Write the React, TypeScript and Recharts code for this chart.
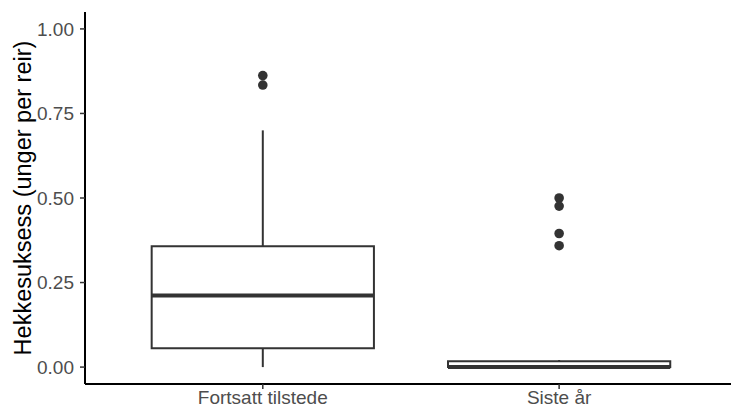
import React from 'react';
import {
  ComposedChart,
  XAxis,
  YAxis,
  Scatter,
  ReferenceArea,
  ReferenceLine,
  Label,
} from 'recharts';

const categories = ['Fortsatt tilstede', 'Siste år'];
const positions = [1, 2];
const q1 = [0.0556, 0];
const medians = [0.2115, 0];
const q3 = [0.357, 0.017];
const whiskerLow = [0, 0];
const whiskerHigh = [0.7, 0.021];
const outliersFortsatt = [0.862, 0.834];
const outliersSiste = [0.5, 0.476, 0.395, 0.359];
const yTicks = [0, 0.25, 0.5, 0.75, 1];

const boxHalfWidth = 0.375;
const FONT = '"Liberation Sans", Arial, sans-serif';
const BOX_COLOR = '#333333';

const outlierData = [
  ...outliersFortsatt.map((y) => ({ x: positions[0], y })),
  ...outliersSiste.map((y) => ({ x: positions[1], y })),
];

const Dot = (props: any) => {
  const { cx, cy } = props;
  if (cx == null || cy == null) return null;
  return <circle cx={cx} cy={cy} r={4.8} fill={BOX_COLOR} />;
};

export default function App() {
  return (
    <div style={{ position: 'absolute', left: 0, top: 0, background: '#fff' }}>
      <ComposedChart
        width={731}
        height={409}
        margin={{ top: 12, right: 0, bottom: 0, left: 0 }}
        data={outlierData}
      >
        <XAxis
          type="number"
          dataKey="x"
          domain={[0.4, 2.58]}
          ticks={positions}
          tickFormatter={(v: number) => categories[v - 1]}
          allowDataOverflow
          height={25}
          tickSize={5}
          tickMargin={2}
          axisLine={{ stroke: '#000', strokeWidth: 2 }}
          tickLine={{ stroke: BOX_COLOR, strokeWidth: 1.5 }}
          tick={{ fill: '#4D4D4D', fontSize: 19, fontFamily: FONT }}
        />
        <YAxis
          type="number"
          dataKey="y"
          domain={[-0.05, 1.05]}
          ticks={yTicks}
          allowDataOverflow
          tickFormatter={(v: number) => v.toFixed(2)}
          width={85}
          tickSize={5}
          tickMargin={6}
          axisLine={{ stroke: '#000', strokeWidth: 2 }}
          tickLine={{ stroke: BOX_COLOR, strokeWidth: 1.5 }}
          tick={{ fill: '#4D4D4D', fontSize: 19, fontFamily: FONT }}
        >
          <Label
            value="Hekkesuksess (unger per reir)"
            angle={-90}
            position="center"
            dx={-20}
            style={{ fill: '#000', fontSize: 23.5, fontFamily: FONT }}
          />
        </YAxis>
        {positions.map((p, i) => (
          <ReferenceLine
            key={`wl-${i}`}
            segment={[
              { x: p, y: whiskerLow[i] },
              { x: p, y: q1[i] },
            ]}
            stroke={BOX_COLOR}
            strokeWidth={2}
            ifOverflow="visible"
          />
        ))}
        {positions.map((p, i) => (
          <ReferenceLine
            key={`wh-${i}`}
            segment={[
              { x: p, y: q3[i] },
              { x: p, y: whiskerHigh[i] },
            ]}
            stroke={BOX_COLOR}
            strokeWidth={2}
            ifOverflow="visible"
          />
        ))}
        {positions.map((p, i) => (
          <ReferenceArea
            key={`box-${i}`}
            x1={p - boxHalfWidth}
            x2={p + boxHalfWidth}
            y1={q1[i]}
            y2={q3[i]}
            fill="#ffffff"
            fillOpacity={1}
            stroke={BOX_COLOR}
            strokeWidth={2}
            ifOverflow="visible"
          />
        ))}
        {positions.map((p, i) => (
          <ReferenceLine
            key={`med-${i}`}
            segment={[
              { x: p - boxHalfWidth, y: medians[i] },
              { x: p + boxHalfWidth, y: medians[i] },
            ]}
            stroke={BOX_COLOR}
            strokeWidth={4}
            ifOverflow="visible"
          />
        ))}
        <Scatter
          dataKey="y"
          data={outlierData}
          shape={<Dot />}
          isAnimationActive={false}
        />
      </ComposedChart>
    </div>
  );
}
